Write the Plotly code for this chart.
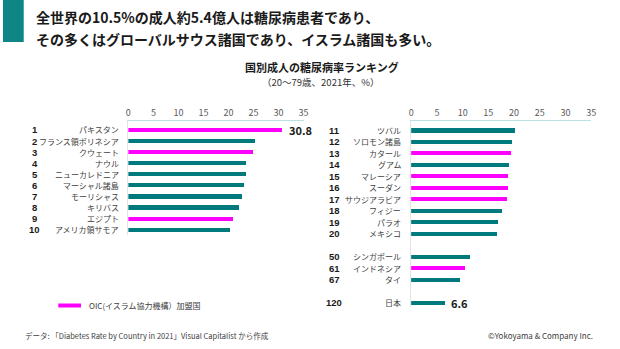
import plotly.graph_objects as go

# ---------------- data ----------------
left_ranks = ["1", "2", "3", "4", "5", "6", "7", "8", "9", "10"]
left_countries = ["パキスタン", "フランス領ポリネシア", "クウェート", "ナウル", "ニューカレドニア",
                  "マーシャル諸島", "モーリシャス", "キリバス", "エジプト", "アメリカ領サモア"]
left_values = [30.8, 25.3, 25.0, 23.5, 23.5, 23.1, 22.8, 22.2, 21.0, 20.4]
left_oic = [True, False, True, False, False, False, False, False, True, False]

right_ranks = ["11", "12", "13", "14", "15", "16", "17", "18", "19", "20", None,
               "50", "61", "67", None, "120"]
right_countries = ["ツバル", "ソロモン諸島", "カタール", "グアム", "マレーシア", "スーダン",
                   "サウジアラビア", "フィジー", "パラオ", "メキシコ", None,
                   "シンガポール", "インドネシア", "タイ", None, "日本"]
right_values = [20.2, 19.7, 19.4, 19.0, 18.9, 18.8, 18.6, 17.6, 16.9, 16.8, None,
                11.5, 10.5, 9.6, None, 6.6]
right_oic = [False, False, True, False, True, True, True, False, False, False, False,
             False, True, False, False, False]

tick_vals = [0, 5, 10, 15, 20, 25, 30, 35]
labeled_left = {"1": "30.8"}
labeled_right = {"120": "6.6"}

title_lines = ["全世界の10.5%の成人約5.4億人は糖尿病患者であり、",
               "その多くはグローバルサウス諸国であり、イスラム諸国も多い。"]
chart_title = "国別成人の糖尿病率ランキング"
chart_sub = "（20～79歳、2021年、%）"
legend_text = "OIC(イスラム協力機構）加盟国"
source_text = "データ: 「Diabetes Rate by Country in 2021」Visual Capitalist から作成"
copyright_text = "©Yokoyama & Company Inc."

# ---------------- style ----------------
W, H = 620, 349
TEAL = "#007a7c"
MAGENTA = "#ff00ff"
FONT = "Noto Sans CJK JP"
NUMFONT = "Liberation Sans"
px = lambda v: v / W
py = lambda v: 1 - v / H


def cats(countries):
    return [c if c is not None else f"_gap{i}" for i, c in enumerate(countries)]


fig = go.Figure()

left_cats = cats(left_countries)
right_cats = cats(right_countries)

fig.add_trace(go.Bar(
    x=left_values, y=left_cats, orientation="h",
    marker=dict(color=[MAGENTA if o else TEAL for o in left_oic], line=dict(width=0)),
    width=0.38, xaxis="x", yaxis="y", showlegend=False, hoverinfo="skip"))

rv = [(c, v, o) for c, v, o in zip(right_cats, right_values, right_oic) if v is not None]
fig.add_trace(go.Bar(
    x=[v for _, v, _ in rv], y=[c for c, _, _ in rv], orientation="h",
    marker=dict(color=[MAGENTA if o else TEAL for _, _, o in rv], line=dict(width=0)),
    width=0.38, xaxis="x2", yaxis="y2", showlegend=False, hoverinfo="skip"))

axis_common = dict(range=[0, 35], tickvals=tick_vals, side="top", showgrid=False,
                   zeroline=False, showline=True, linecolor="#b7e3e6", linewidth=1,
                   ticks="", tickfont=dict(family=FONT, size=9, color="#595959"),
                   fixedrange=True)
yaxis_common = dict(type="category", showticklabels=False, showgrid=False, zeroline=False,
                    showline=True, linecolor="#e3e3e3", linewidth=1, ticks="",
                    fixedrange=True)

annotations = []
# chart titles
for i, t in enumerate(title_lines):
    annotations.append(dict(text=f"<b>{t}</b>", x=px(31), y=py([17, 39][i]), xref="paper",
                            yref="paper", xanchor="left", yanchor="middle", showarrow=False,
                            font=dict(family=FONT, size=14, color="#1a1a1a")))
annotations.append(dict(text=f"<b>{chart_title}</b>", x=px(323), y=py(66.8), xref="paper",
                        yref="paper", xanchor="center", yanchor="middle", showarrow=False,
                        font=dict(family=FONT, size=11, color="#1a1a1a")))
annotations.append(dict(text=chart_sub, x=px(322), y=py(82), xref="paper",
                        yref="paper", xanchor="center", yanchor="middle", showarrow=False,
                        font=dict(family=FONT, size=9.5, color="#333333")))

# rank numbers and country names
for ranks, cat_list, values, yref, xr, xn, labeled, xref in [
        (left_ranks, left_cats, left_values, "y", 32, 120, labeled_left, "x"),
        (right_ranks, right_cats, right_values, "y2", 335.5, 405, labeled_right, "x2")]:
    for r, c, v in zip(ranks, cat_list, values):
        if r is None:
            continue
        annotations.append(dict(text=f"<b>{r}</b>", x=px(xr), y=c, xref="paper", yref=yref,
                                xanchor="center", yanchor="middle", showarrow=False,
                                font=dict(family=NUMFONT, size=9.5, color="#1a1a1a")))
        annotations.append(dict(text=c, x=px(xn), y=c, xref="paper", yref=yref,
                                xanchor="right", yanchor="middle", showarrow=False,
                                font=dict(family=FONT, size=8, color="#404040")))
        if r in labeled:
            annotations.append(dict(text=f"<b>{labeled[r]}</b>", x=v, y=c, xref=xref,
                                    yref=yref, xanchor="left", yanchor="middle",
                                    xshift=4, showarrow=False,
                                    font=dict(family=FONT, size=11, color="#1a1a1a")))

# legend
annotations.append(dict(text=legend_text, x=px(85), y=py(305.5), xref="paper", yref="paper",
                        xanchor="left", yanchor="middle", showarrow=False,
                        font=dict(family=FONT, size=8, color="#404040")))
# footer
annotations.append(dict(text=source_text, x=px(20), y=py(335.5), xref="paper", yref="paper",
                        xanchor="left", yanchor="middle", showarrow=False,
                        font=dict(family=FONT, size=7.5, color="#404040")))
annotations.append(dict(text=copyright_text, x=px(600), y=py(335.5), xref="paper",
                        yref="paper", xanchor="right", yanchor="middle", showarrow=False,
                        font=dict(family=FONT, size=8, color="#404040")))

shapes = [
    dict(type="rect", xref="paper", yref="paper", x0=0, x1=px(21), y0=py(42), y1=1,
         fillcolor="#0f8585", line=dict(width=0), layer="above"),
    dict(type="rect", xref="paper", yref="paper", x0=px(56), x1=px(79), y0=py(307.5),
         y1=py(303.5), fillcolor=MAGENTA, line=dict(width=0)),
]

fig.update_layout(
    width=W, height=H, autosize=False,
    margin=dict(l=0, r=0, t=0, b=0),
    paper_bgcolor="white", plot_bgcolor="white",
    bargap=0,
    xaxis=dict(domain=[px(127), px(304.5)], anchor="y", **axis_common),
    yaxis=dict(domain=[py(235), py(121)], anchor="x", categoryorder="array",
               categoryarray=left_cats, range=[len(left_cats) - 0.52, -0.81], **yaxis_common),
    xaxis2=dict(domain=[px(413.5), px(596)], anchor="y2", **axis_common),
    yaxis2=dict(domain=[py(307), py(121)], anchor="x2", categoryorder="array",
                categoryarray=right_cats, range=[len(right_cats) - 0.63, -0.81],
                **yaxis_common),
    annotations=annotations,
    shapes=shapes,
    font=dict(family=FONT),
)

fig.write_html("out.html")
